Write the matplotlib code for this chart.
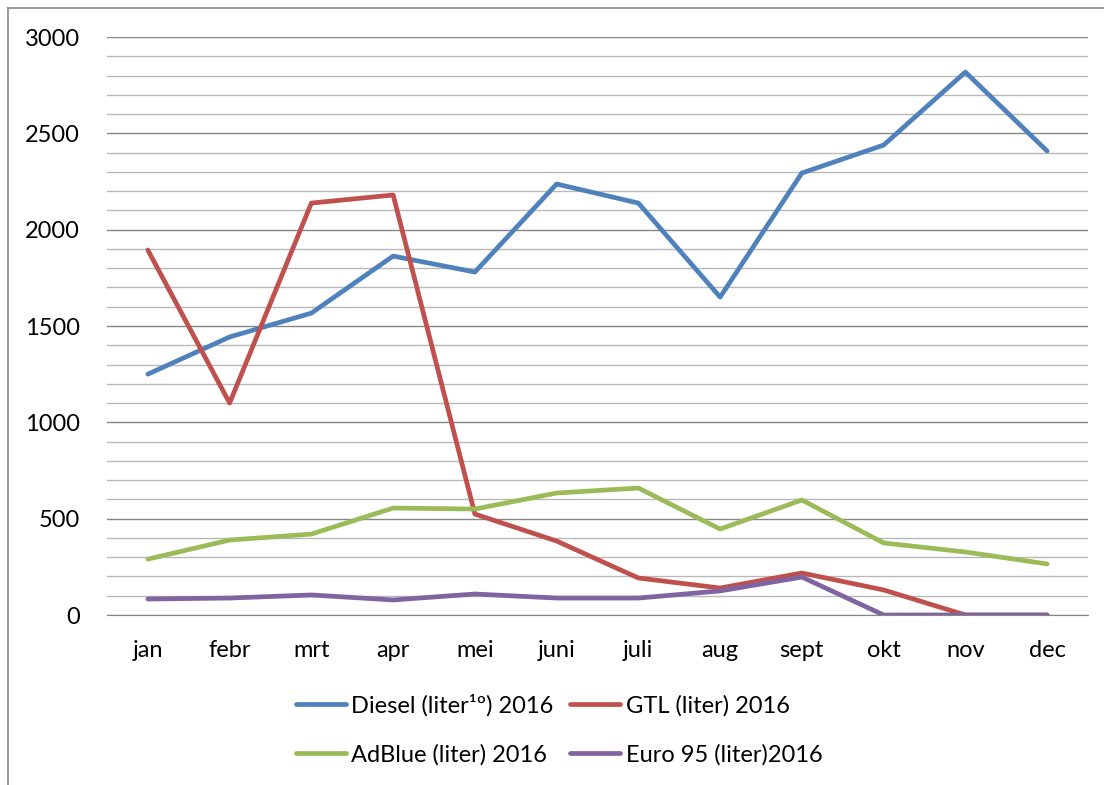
import matplotlib
matplotlib.use("Agg")
import matplotlib.pyplot as plt
from matplotlib.lines import Line2D

months = ['jan', 'febr', 'mrt', 'apr', 'mei', 'juni', 'juli', 'aug', 'sept', 'okt', 'nov', 'dec']
diesel = [1250, 1443, 1567, 1863, 1780, 2237, 2138, 1650, 2294, 2439, 2818, 2408]
gtl = [1894, 1100, 2138, 2180, 524, 384, 192, 140, 218, 130, 0, 0]
adblue = [290, 389, 420, 555, 550, 633, 659, 446, 597, 374, 327, 265]
euro95 = [83, 88, 104, 78, 109, 88, 88, 125, 197, 0, 0, 0]

labels = ['Diesel (liter¹º) 2016', 'GTL (liter) 2016', 'AdBlue (liter) 2016', 'Euro 95 (liter)2016']
colors = ['#4F81BD', '#C0504D', '#9BBB59', '#8064A2']

plt.rcParams['font.family'] = ['Lato', 'DejaVu Sans']
fs = 17

fig = plt.figure(figsize=(11.04, 7.85), dpi=100)
ax = fig.add_axes([107/1104, 1-615/785, (1088-107)/1104, (615-37)/785])

x = range(len(months))
lines = []
for vals, c, lab in zip([diesel, gtl, adblue, euro95], colors, labels):
    l, = ax.plot(x, vals, color=c, lw=3.4, solid_capstyle='round', solid_joinstyle='round', label=lab, zorder=3)
    lines.append(l)

ax.set_xlim(-0.5, len(months)-0.5)
ax.set_ylim(0, 3000)
ax.set_yticks(range(0, 3001, 500))
ax.set_yticks(range(0, 3001, 100), minor=True)
ax.set_xticks(list(x))
ax.set_xticklabels(months)
ax.grid(True, which='major', axis='y', color='#868686', lw=1.0)
ax.grid(True, which='minor', axis='y', color='#b8b8b8', lw=1.0)
ax.set_axisbelow(True)
for s in ['top', 'right', 'left']:
    ax.spines[s].set_visible(False)
ax.spines['bottom'].set_color('#868686')
ax.tick_params(axis='both', which='both', length=0, labelsize=fs)
ax.tick_params(axis='y', pad=19.5)
ax.tick_params(axis='x', pad=18)

order = [0, 2, 1, 3]
fig.legend([lines[i] for i in order], [labels[i] for i in order], ncol=2,
           loc='upper left', bbox_to_anchor=(296/1104, 1-694/785),
           frameon=False, fontsize=fs, handlelength=2.1, handletextpad=0.25,
           columnspacing=0.7, labelspacing=1.15, borderpad=0, borderaxespad=0)

fig.add_artist(Line2D([8/1104, 8/1104], [0, 1-8/785], transform=fig.transFigure, color='#888888', lw=1.2))
fig.add_artist(Line2D([8/1104, 1], [1-8/785, 1-8/785], transform=fig.transFigure, color='#888888', lw=1.2))

fig.savefig('out.png', dpi=100)
